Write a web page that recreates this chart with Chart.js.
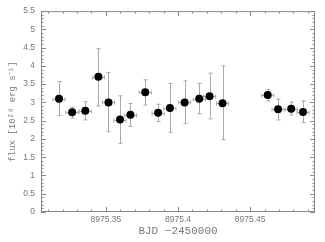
<!DOCTYPE html>
<html>
<head>
<meta charset="utf-8">
<script src="https://cdn.jsdelivr.net/npm/chart.js@4"></script>
<style>
  html, body { margin: 0; padding: 0; background: #fff; }
  #wrap { width: 325px; height: 242px; }
</style>
</head>
<body>
<div id="wrap"><canvas id="lc" width="325" height="242"></canvas></div>
<script>
// time (BJD - 2450000) and flux in 1e28 erg/s
const bjd = [8975.3175, 8975.3266, 8975.3357, 8975.3448, 8975.3518, 8975.3598, 8975.3670, 8975.3773, 8975.3862,
             8975.3944, 8975.4046, 8975.4147, 8975.4219, 8975.4309, 8975.4622, 8975.4694, 8975.4785, 8975.4867];
const flux = [3.10, 2.73, 2.77, 3.70, 3.00, 2.53, 2.66, 3.28, 2.72, 2.85, 3.00, 3.10, 3.17, 2.98, 3.20, 2.81, 2.83, 2.74];
const fluxHigh = [3.57, 2.87, 3.02, 4.47, 3.82, 3.18, 2.97, 3.62, 2.95, 3.52, 3.59, 3.52, 3.80, 4.00, 3.35, 3.09, 3.01, 3.04];
const fluxLow = [2.64, 2.57, 2.52, 2.90, 2.20, 1.88, 2.34, 2.93, 2.48, 2.18, 2.42, 2.69, 2.55, 1.98, 3.04, 2.52, 2.66, 2.45];
const binHalf = 0.0042;

const xTicks = [8975.35, 8975.40, 8975.45];
const yTicks = [0, 0.5, 1, 1.5, 2, 2.5, 3, 3.5, 4, 4.5, 5, 5.5];
const xRange = [8975.305, 8975.495];
const yRange = [0, 5.5];

const frameColor = '#8a8a8a';
const labelColor = '#777';

// error bars drawn under the points
const errorBars = {
  id: 'errorBars',
  beforeDatasetsDraw(chart) {
    const { ctx, scales: { x, y } } = chart;
    ctx.save();
    ctx.strokeStyle = '#a8a8a8';
    ctx.lineWidth = 1;
    bjd.forEach((t, i) => {
      const px = Math.round(x.getPixelForValue(t)) + 0.5;
      const py = Math.round(y.getPixelForValue(flux[i])) + 0.5;
      const top = y.getPixelForValue(fluxHigh[i]);
      const bot = y.getPixelForValue(fluxLow[i]);
      const l = x.getPixelForValue(t - binHalf);
      const r = x.getPixelForValue(t + binHalf);
      ctx.beginPath();
      ctx.moveTo(px, top); ctx.lineTo(px, bot);
      ctx.moveTo(px - 2, top); ctx.lineTo(px + 2, top);
      ctx.moveTo(px - 2, bot); ctx.lineTo(px + 2, bot);
      ctx.moveTo(l, py); ctx.lineTo(r, py);
      ctx.moveTo(l, py - 2); ctx.lineTo(l, py + 2);
      ctx.moveTo(r, py - 2); ctx.lineTo(r, py + 2);
      ctx.stroke();
    });
    ctx.restore();
  }
};

// box frame with inward ticks on all four sides
const frame = {
  id: 'frame',
  afterDraw(chart) {
    const { ctx, chartArea: a, scales: { x, y } } = chart;
    ctx.save();
    ctx.strokeStyle = frameColor;
    ctx.lineWidth = 1;
    ctx.strokeRect(a.left + 0.5, a.top + 0.5, a.right - a.left - 1, a.bottom - a.top - 1);
    ctx.beginPath();
    for (let k = 0; k <= 55; k++) {
      const v = k / 10;
      const len = k % 5 === 0 ? 5 : 2.5;
      const py = Math.round(y.getPixelForValue(v)) + 0.5;
      ctx.moveTo(a.left, py); ctx.lineTo(a.left + len, py);
      ctx.moveTo(a.right, py); ctx.lineTo(a.right - len, py);
    }
    for (let k = 31; k <= 49; k++) {
      const v = 8975 + k / 100;
      const len = k % 5 === 0 ? 5 : 2.5;
      const px = Math.round(x.getPixelForValue(v)) + 0.5;
      ctx.moveTo(px, a.bottom); ctx.lineTo(px, a.bottom - len);
      ctx.moveTo(px, a.top); ctx.lineTo(px, a.top + len);
    }
    ctx.stroke();
    ctx.restore();
  }
};

new Chart(document.getElementById('lc'), {
  type: 'scatter',
  data: {
    datasets: [{
      data: bjd.map((t, i) => ({ x: t, y: flux[i] })),
      backgroundColor: '#000',
      borderColor: '#000',
      borderWidth: 0,
      pointRadius: 4,
      pointHoverRadius: 4
    }]
  },
  options: {
    responsive: false,
    animation: false,
    layout: { padding: { top: 9, right: 10, left: 7, bottom: 4 } },
    plugins: { legend: { display: false }, tooltip: { enabled: false } },
    scales: {
      x: {
        type: 'linear',
        min: xRange[0], max: xRange[1],
        afterBuildTicks: s => { s.ticks = xTicks.map(v => ({ value: v })); },
        afterFit: s => { s.height = 26; },
        grid: { display: false, drawTicks: false },
        border: { display: false },
        ticks: {
          padding: 3,
          color: labelColor,
          font: { family: 'Liberation Sans', size: 8.5 },
          maxRotation: 0,
          callback: v => v.toFixed(2).replace(/0$/, '')
        },
        title: {
          display: true,
          text: 'BJD \u22122450000',
          color: labelColor,
          padding: { top: 0, bottom: 0 },
          font: { family: 'Liberation Mono', size: 11 }
        }
      },
      y: {
        min: yRange[0], max: yRange[1],
        afterBuildTicks: s => { s.ticks = yTicks.map(v => ({ value: v })); },
        afterFit: s => { s.width = 34; },
        grid: { display: false, drawTicks: false },
        border: { display: false },
        ticks: {
          padding: 6,
          color: labelColor,
          font: { family: 'Liberation Sans', size: 8.5 },
          callback: v => String(v)
        },
        title: {
          display: true,
          text: 'flux [10\u00b2\u2078 erg s\u207b\u00b9]',
          color: labelColor,
          padding: { top: 0, bottom: 0 },
          font: { family: 'Liberation Mono', size: 9 }
        }
      }
    }
  },
  plugins: [errorBars, frame]
});
</script>
</body>
</html>
